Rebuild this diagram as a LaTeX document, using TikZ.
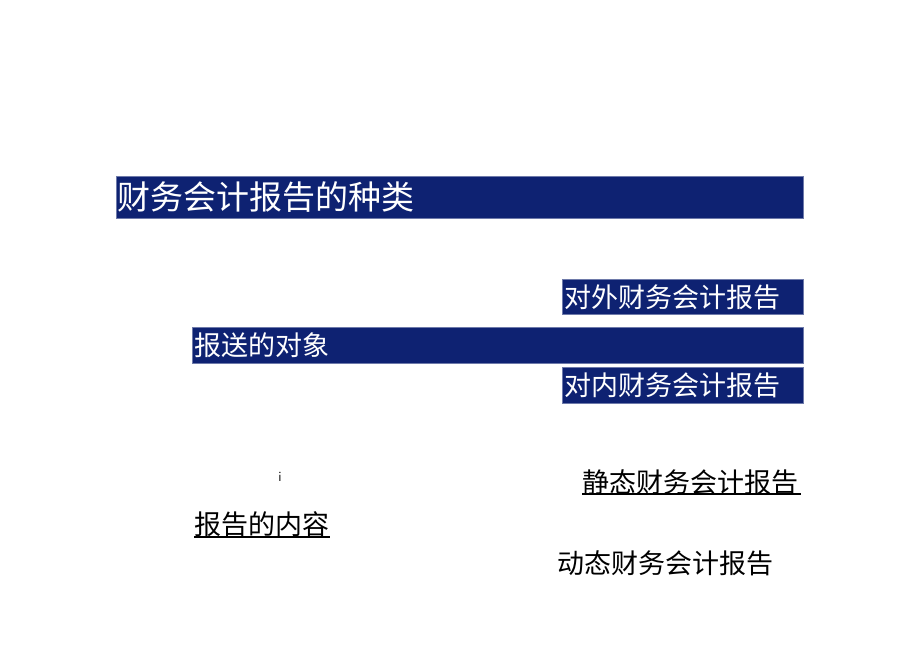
\documentclass[tikz,border=0pt]{standalone}
\usepackage{fontspec}
\newfontfamily\cjk{Noto Sans CJK SC}
\definecolor{navy}{RGB}{14,34,114}
\begin{document}
\begin{tikzpicture}[x=1pt,y=-1pt,
  bar/.style={fill=navy,draw=navy!60!white,line width=0.6pt},
  wtxt/.style={text=white,font=\cjk\fontsize{27}{29}\selectfont,anchor=west,inner sep=0pt},
  btxt/.style={text=black,font=\cjk\fontsize{27}{29}\selectfont,anchor=west,inner sep=0pt},
  uline/.style={line width=1.2pt,black}]
\useasboundingbox (0,0) rectangle (920,651);
\fill[white] (0,0) rectangle (920,651);
% title bar
\draw[bar] (116,176) rectangle (803,218);
\node[wtxt,font=\cjk\fontsize{33}{35}\selectfont] (title) at (117,197) {财务会计报告的种类};
% boxes
\draw[bar] (562,279) rectangle (803,314);
\node[wtxt] (ext) at (564,297) {对外财务会计报告};
\draw[bar] (192,327) rectangle (803,363);
\node[wtxt] (obj) at (194,345) {报送的对象};
\draw[bar] (562,367) rectangle (803,403);
\node[wtxt] (int) at (564,385) {对内财务会计报告};
% small i
\node[inner sep=0pt,font=\fontsize{14}{15}\selectfont\sffamily] (i) at (280,477) {i};
% underlined texts
\node[btxt] (stat) at (582,482) {静态财务会计报告};
\draw[uline] (stat.west |- 0,494) -- (801,494);
\node[btxt] (cont) at (194,524) {报告的内容};
\draw[uline] (cont.west |- 0,537) -- (330,537);
\node[btxt] (dyn) at (557,563) {动态财务会计报告};
\end{tikzpicture}
\end{document}
